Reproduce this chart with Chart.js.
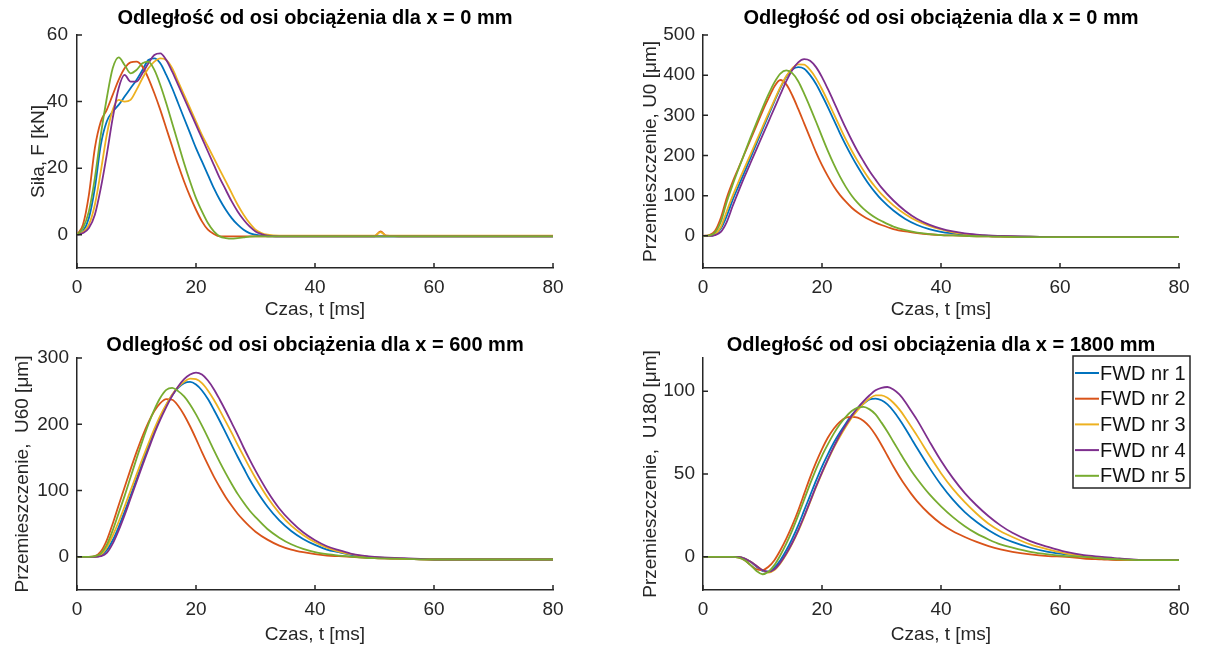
<!DOCTYPE html>
<html>
<head>
<meta charset="utf-8">
<script src="https://cdn.jsdelivr.net/npm/chart.js@4.4.1/dist/chart.umd.min.js"></script>
<style>
  html, body { margin: 0; padding: 0; background: #fff; overflow: hidden; width: 1208px; height: 650px; }
  canvas { position: absolute; }
</style>
</head>
<body>
<canvas id="c1" width="630" height="325" style="left:0px;top:0px"></canvas>
<canvas id="c2" width="630" height="325" style="left:626px;top:0px"></canvas>
<canvas id="c3" width="630" height="325" style="left:0px;top:325px"></canvas>
<canvas id="c4" width="630" height="325" style="left:626px;top:325px"></canvas>
<script>
var fwdLabels = ["FWD nr 1", "FWD nr 2", "FWD nr 3", "FWD nr 4", "FWD nr 5"];
var fwdColors = ["#0072BD", "#D95319", "#EDB120", "#7E2F8E", "#77AC30"];
var xTicks = [0, 20, 40, 60, 80];

// Siła F [kN], x = 0 mm
var tForce = [0,1,2,3,4,5,6,7,8,9,10,11,12,13,14,15,16,17,18,19,20,21,22,23,24,25,26,27,28,29,30,31,32,
  34,36,40,45,50,51,52,55,60,70,80];
var force1 = [0,1,5,14,27,34,37,39,41.5,44,46.5,49.5,52.5,
  53,51.5,48,44,39.5,35,30.5,26,22,18,14,10.5,7.5,5,3,1.5,0.5,0,-0.3,-0.5,
  -0.5,-0.5,-0.5,-0.5,-0.5,-0.5,-0.5,-0.5,-0.5,-0.5,-0.5];
var force2 = [0,3,12,26,34,37.5,42,46.5,50,51.8,52,50.5,47,42.5,
  37.5,32,26.5,21,16,11.5,7.5,4,1.5,0.2,-0.5,-0.5,-0.5,-0.5,-0.5,-0.5,-0.5,-0.5,-0.5,
  -0.5,-0.5,-0.5,-0.5,-0.5,1,-0.3,-0.5,-0.5,-0.5,-0.5];
var force3 = [0,0.8,3,9,19,30,37.5,40.5,40,40.5,43.5,47,50,52,53,52.5,50,
  46,42,38,34,30,26.5,23,19.5,16,12.5,9,6,3.5,1.5,0.5,0,
  -0.3,-0.3,-0.3,-0.3,-0.3,0.8,-0.3,-0.3,-0.3,-0.3,-0.3];
var force4 = [0,0.5,2,6,14,24,35,44,48,46,46,48.5,51.5,54,54.5,52.5,49,45,
  41,37,33,29,25,21,17,13.5,10,7,4.5,2.5,1,0.2,-0.3,
  -0.5,-0.5,-0.5,-0.5,-0.5,-0.5,-0.5,-0.5,-0.5,-0.5,-0.5];
var force5 = [0,2,7,17,30,41,50,53.3,51,48.5,49.5,51.5,52,
  49.5,45,39.5,33.5,27.5,21.5,16,11,7,3.5,1,-0.5,-1,-1.2,-1,-0.8,-0.6,-0.5,-0.5,-0.5,
  -0.5,-0.5,-0.5,-0.5,-0.5,-0.5,-0.5,-0.5,-0.5,-0.5,-0.5];

// U0 [um], x = 0 mm
var tU0 = [0,1,2,3,4,5,6,7,8,9,10,11,12,13,14,15,16,17,18,19,20,21,22,23,24,25,26,27,28,29,30,
  32,34,36,38,40,42,44,46,48,50,55,60,70,80];
var u0_1 = [0,0,3,18,50,90,125,160,195,230,265,300,335,368,396,414,420,416,400,378,350,320,288,256,226,198,172,148,126,107,90,
  63,42,27,17,10,6,3,1,0,-1,-2,-3,-3,-3];
var u0_2 = [0,2,12,45,95,135,170,205,240,275,310,342,372,388,377,350,316,280,244,208,176,148,123,102,85,70,58,48,40,33,27,
  17,11,7,4,2,1,0,-1,-1.5,-2,-3,-3,-3,-3];
var u0_3 = [0,0,4,22,62,100,136,170,203,237,271,305,338,370,398,417,427,426,413,392,365,335,303,271,240,212,186,162,140,121,104,
  76,54,37,25,16,9,5,2,0,-1,-2,-3,-3,-3];
var u0_4 = [0,0,2,10,35,75,112,148,182,216,250,284,318,352,385,413,432,440,436,420,395,365,333,300,268,238,210,185,161,140,120,
  88,62,42,28,18,11,6,3,1,0,-2,-3,-3,-3];
var u0_5 = [0,1,8,35,85,128,168,207,245,282,318,352,382,404,412,405,385,354,320,284,247,211,178,148,122,100,82,67,55,45,37,
  23,14,8,4.5,2,1,0,-1,-1.5,-2,-3,-3,-3,-3];

// U60 [um], x = 600 mm
var tU60 = [0,1,2,3,4,5,6,7,8,9,10,11,12,13,14,15,16,17,18,19,20,21,22,23,24,25,26,27,28,29,30,
  32,34,36,38,40,42,44,46,48,50,55,60,70,80];
var u60_1 = [0,0,0,0,2,10,25,45,68,92,117,142,167,190,211,229,244,255,262,264,260,251,238,222,205,187,169,151,134,117,102,
  76,55,39,27,18,11,7,3,1,-1,-3,-4,-4,-4];
var u60_2 = [0,0,0,1,8,25,50,78,105,132,158,182,203,220,232,238,237,228,214,197,178,158,139,121,105,90,77,65,55,46,38,
  26,17,11,7,4,2,1,0,-1,-2,-3,-4,-4,-4];
var u60_3 = [0,0,0,0,3,14,32,53,76,100,124,148,171,193,213,230,245,256,264,269,268,262,251,237,221,204,187,169,152,135,119,
  90,66,47,33,22,14,8,4,1,-1,-3,-4,-4,-4];
var u60_4 = [0,0,0,0,1,6,20,40,63,88,113,138,162,186,207,226,243,257,268,275,278,275,266,253,237,220,202,184,165,147,130,
  99,73,53,37,25,16,10,5,2,0,-2,-4,-4,-4];
var u60_5 = [0,0,0,1,5,18,40,66,92,120,148,175,200,222,240,252,255,250,242,230,215,198,180,161,143,126,110,95,82,70,60,
  42,29,19,12,7,4,2,0.5,-1,-2,-3,-4,-4,-4];

// U180 [um], x = 1800 mm
var tU180 = [0,2,4,5,6,7,8,9,10,11,12,13,14,15,16,17,18,19,20,21,22,23,24,25,26,27,28,29,30,31,32,33,34,35,36,
  38,40,42,44,46,48,50,52,55,58,61,64,67,70,75,80];
var u180_1 = [0,0,0,0,0,-1,-3,-6,-8.5,-9,-6.5,-2,4,11,19,28,37,46,54.5,62,69,75,80.5,85.5,89.5,92.5,95,95.5,94.5,92,88,83,77.5,71.5,65.5,
  54,43.5,34.5,27,21,16,12,9,5.5,3,1.5,0.5,-0.5,-1.5,-2,-2];
var u180_2 = [0,0,0,0,-0.5,-2,-5,-7.5,-8,-6,-2,4,11,19,28,38,48,57,65,72,77.5,81.5,84,84.5,84,82,78.5,73.5,67.5,61,54.5,48.5,43,38,33.5,
  26,20,15.5,12,9,6.5,4.5,3,1.5,0.5,0,-1,-1.5,-2,-2,-2];
var u180_3 = [0,0,0,0,0,-1,-3,-5.5,-8,-9.5,-8,-4,1.5,8,15.5,24,33,42,50.5,58.5,66,72.5,78.5,84,88.5,92.5,95.5,97.5,97.5,96,93,89,84,78.5,73,
  61.5,50.5,41,33,26,20,15.5,12,7.5,4.5,2,0.5,-0.5,-1.5,-2,-2];
var u180_4 = [0,0,0,0,0,-1,-3,-5.5,-8,-9,-7.5,-3.5,2,8.5,16,24.5,33.5,42.5,51,59,66.5,73.5,79.5,85,90,94,97.5,100.5,102,102.5,101,98,93.5,88,82.5,
  70,58,47.5,38.5,31,24.5,19,14.5,9.5,6,3,1,0,-1,-2,-2];
var u180_5 = [0,0,0,0,-0.5,-2,-5,-8.5,-10.5,-9,-5,1,8,16,25,34.5,44,53,61,68,74.5,80,84.5,88,90,90.5,89,86,81,75.5,69.5,63.5,57.5,52,47,
  38,30.5,24,18.5,14,10.5,7.5,5.5,3,1.5,0.5,0,-1,-1.5,-2,-2];

Chart.defaults.font.family = "'Liberation Sans', Arial, sans-serif";
Chart.defaults.font.size = 19;
Chart.defaults.color = "#262626";

// MATLAB style ticks pointing into the axes
var inwardTicks = {
  id: "inwardTicks",
  afterDatasetsDraw: function(chart) {
    var ctx = chart.ctx, area = chart.chartArea;
    var sx = chart.scales.x, sy = chart.scales.y;
    ctx.save();
    ctx.strokeStyle = "#262626";
    ctx.lineWidth = 1.5;
    ctx.beginPath();
    sx.ticks.forEach(function(t) {
      var px = sx.getPixelForValue(t.value);
      ctx.moveTo(px, area.bottom);
      ctx.lineTo(px, area.bottom - 5);
    });
    sy.ticks.forEach(function(t) {
      var py = sy.getPixelForValue(t.value);
      ctx.moveTo(area.left, py);
      ctx.lineTo(area.left + 5, py);
    });
    ctx.stroke();
    ctx.restore();
  }
};

// boxed legend in the upper right corner
var boxLegend = {
  id: "boxLegend",
  afterDraw: function(chart) {
    var ctx = chart.ctx, area = chart.chartArea;
    var right = area.right + 11, left = right - 117, top = area.top - 2, rowH = 25.7;
    ctx.save();
    ctx.fillStyle = "#fff";
    ctx.fillRect(left, top, right - left, 132);
    ctx.strokeStyle = "#262626";
    ctx.lineWidth = 1.5;
    ctx.strokeRect(left, top, right - left, 132);
    ctx.font = "20px 'Liberation Sans', Arial, sans-serif";
    ctx.textBaseline = "middle";
    chart.data.datasets.forEach(function(ds, i) {
      var cy = top + 17 + i * rowH;
      ctx.strokeStyle = ds.borderColor;
      ctx.lineWidth = 2;
      ctx.beginPath();
      ctx.moveTo(left + 2, cy);
      ctx.lineTo(left + 26, cy);
      ctx.stroke();
      ctx.fillStyle = "#111";
      ctx.fillText(ds.label, left + 27, cy + 1);
    });
    ctx.restore();
  }
};

function makePlot(id, t, series, o) {
  var datasets = series.map(function(s, i) {
    return {
      label: fwdLabels[i],
      data: t.map(function(x, k) { return {x: x, y: s[k]}; }),
      borderColor: fwdColors[i],
      backgroundColor: fwdColors[i],
      borderWidth: 1.8,
      pointRadius: 0,
      cubicInterpolationMode: "monotone",
      order: series.length - i
    };
  });
  var plugins = [inwardTicks];
  if (o.legend) plugins.push(boxLegend);
  return new Chart(document.getElementById(id), {
    type: "line",
    data: {datasets: datasets},
    options: {
      responsive: false,
      animation: false,
      layout: {padding: 0},
      plugins: {
        legend: {display: false},
        tooltip: {enabled: false},
        title: {
          display: true,
          text: o.title,
          color: "#000",
          font: {size: 20, weight: "bold"},
          padding: o.titlePad
        }
      },
      scales: {
        x: {
          type: "linear",
          min: 0,
          max: 80,
          afterBuildTicks: function(s) { s.ticks = xTicks.map(function(v) { return {value: v}; }); },
          afterFit: function(s) { s.height = o.xHeight; s.paddingRight = 77; },
          grid: {display: true, drawOnChartArea: false, drawTicks: false},
          border: {display: true, color: "#262626", width: 1.5},
          ticks: {padding: 8, maxRotation: 0},
          title: {display: true, text: "Czas, t [ms]", padding: {top: 0, bottom: 4}}
        },
        y: {
          type: "linear",
          min: o.yMin,
          max: o.yMax,
          afterBuildTicks: function(s) { s.ticks = o.yTicks.map(function(v) { return {value: v}; }); },
          afterFit: function(s) { s.width = 77; },
          grid: {display: true, drawOnChartArea: false, drawTicks: false},
          border: {display: true, color: "#262626", width: 1.5},
          ticks: {padding: o.yTickPad},
          title: {display: true, text: o.yTitle, padding: {top: o.yTitlePad, bottom: 0}}
        }
      }
    },
    plugins: plugins
  });
}

window.onload = function() {
  makePlot("c1", tForce, [force1, force2, force3, force4, force5], {
    title: "Odległość od osi obciążenia dla x = 0 mm",
    titlePad: {top: 6, bottom: 5}, xHeight: 57,
    yMin: -10, yMax: 60, yTicks: [0, 20, 40, 60],
    yTitle: "Siła, F [kN]", yTitlePad: 27, yTickPad: 9
  });
  makePlot("c2", tU0, [u0_1, u0_2, u0_3, u0_4, u0_5], {
    title: "Odległość od osi obciążenia dla x = 0 mm",
    titlePad: {top: 6, bottom: 5}, xHeight: 57,
    yMin: -80, yMax: 500, yTicks: [0, 100, 200, 300, 400, 500],
    yTitle: "Przemieszczenie, U0 [μm]", yTitlePad: 13, yTickPad: 8
  });
  makePlot("c3", tU60, [u60_1, u60_2, u60_3, u60_4, u60_5], {
    title: "Odległość od osi obciążenia dla x = 600 mm",
    titlePad: {top: 8, bottom: 1}, xHeight: 60,
    yMin: -50, yMax: 300, yTicks: [0, 100, 200, 300],
    yTitle: "Przemieszczenie,  U60 [μm]", yTitlePad: 11, yTickPad: 8
  });
  makePlot("c4", tU180, [u180_1, u180_2, u180_3, u180_4, u180_5], {
    title: "Odległość od osi obciążenia dla x = 1800 mm",
    titlePad: {top: 8, bottom: 1}, xHeight: 60,
    yMin: -20, yMax: 120, yTicks: [0, 50, 100],
    yTitle: "Przemieszczenie,  U180 [μm]", yTitlePad: 13, yTickPad: 8,
    legend: true
  });
};
</script>
</body>
</html>
